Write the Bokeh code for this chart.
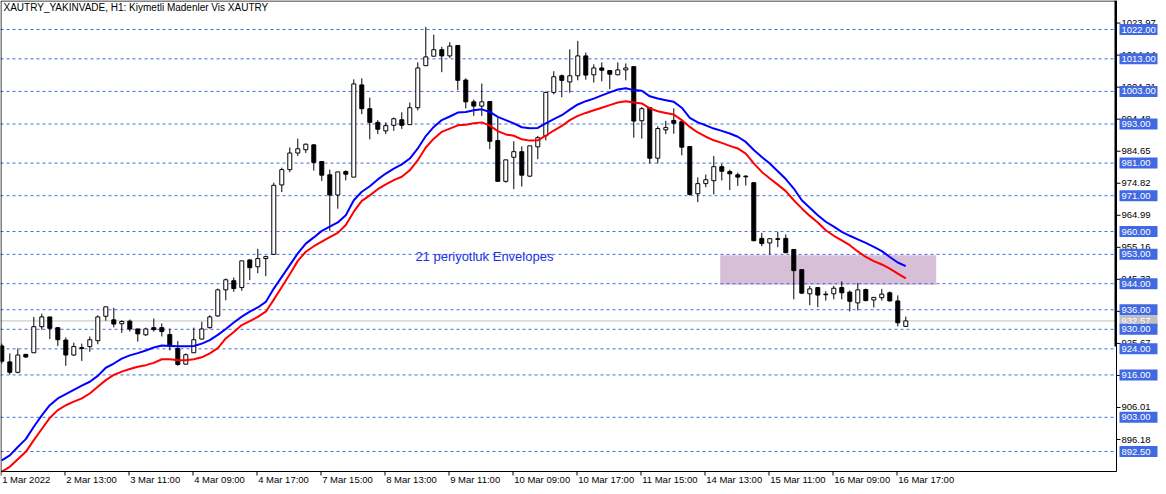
from bokeh.plotting import figure
from bokeh.models import Range1d, ColumnDataSource
from bokeh.core.properties import value
from bokeh.embed import file_html
from bokeh.resources import INLINE

title_text = "XAUTRY_YAKINVADE, H1:  Kiymetli Madenler Vis XAUTRY"
envelope_text = "21 periyotluk Envelopes"

opens = [924.9, 920.0, 916.8, 922.3, 922.8, 930.8, 933.8, 930.5, 926.7, 922.1,
         924.1, 924.7, 926.5, 934.0, 932.9, 931.7, 932.5, 930.1, 928.3, 930.5,
         930.5, 928.4, 924.1, 919.3, 922.8, 927.0, 930.5, 934.1, 942.1, 944.9,
         942.8, 951.3, 949.2, 951.7, 953.0, 974.3, 979.0, 984.1, 985.1, 986.6,
         981.5, 977.4, 971.2, 978.4, 976.7, 1005.0, 997.7, 993.5, 990.9, 992.6,
         994.3, 992.8, 998.0, 1010.9, 1013.8, 1015.8, 1013.9, 1017.1, 1006.5, 999.8,
         998.5, 999.9, 987.9, 975.4, 982.8, 984.5, 977.0, 986.0, 989.4, 1002.7,
         1007.8, 1005.9, 1007.8, 1013.9, 1008.1, 1010.2, 1009.4, 1008.1, 1009.6, 1010.6,
         994.0, 998.0, 982.5, 991.2, 994.1, 993.7, 986.1, 971.6, 974.7, 975.6,
         979.9, 978.4, 977.4, 977.0, 975.0, 957.9, 956.5, 957.8, 957.9, 954.5,
         948.3, 940.9, 942.8, 940.8, 940.9, 942.8, 941.4, 938.1, 942.2, 939.0,
         939.7, 941.2, 938.7, 930.9]

highs = [925.6, 922.6, 924.1, 922.5, 933.8, 934.8, 933.8, 930.6, 927.5, 925.9,
         925.6, 927.8, 934.3, 936.9, 936.6, 932.8, 933.0, 930.2, 930.5, 933.3,
         931.8, 930.2, 926.4, 922.6, 930.5, 932.3, 934.3, 942.5, 945.6, 945.9,
         951.0, 951.5, 954.7, 952.6, 975.0, 979.6, 985.8, 988.5, 987.0, 986.8,
         981.5, 979.0, 978.3, 978.8, 1006.7, 1007.0, 1001.1, 994.2, 993.5, 995.0,
         996.6, 999.6, 1011.9, 1022.8, 1020.4, 1016.7, 1018.1, 1017.1, 1007.0, 1000.5,
         1005.4, 999.9, 994.9, 982.0, 987.7, 986.1, 986.3, 989.3, 1002.9, 1009.2,
         1008.2, 1015.9, 1018.5, 1014.9, 1011.3, 1011.9, 1009.4, 1011.9, 1011.6, 1010.6,
         998.2, 998.0, 992.3, 994.0, 997.8, 993.7, 986.1, 976.6, 977.5, 983.2,
         980.8, 979.0, 978.1, 977.3, 975.0, 959.6, 957.8, 959.9, 959.1, 954.5,
         948.3, 943.3, 943.0, 941.7, 943.3, 944.7, 941.9, 944.2, 942.5, 939.8,
         942.4, 941.6, 940.4, 933.9]

lows = [919.5, 916.1, 916.5, 921.2, 922.8, 929.9, 927.0, 924.9, 918.8, 921.9,
        920.3, 923.1, 925.4, 932.6, 930.6, 928.9, 929.3, 926.2, 928.0, 929.3,
        927.8, 923.5, 918.8, 919.2, 922.8, 926.9, 930.2, 933.8, 938.9, 941.5,
        941.8, 945.1, 947.2, 946.3, 953.0, 972.1, 978.2, 983.2, 984.1, 978.7,
        975.5, 960.2, 967.0, 975.7, 976.7, 996.0, 988.3, 989.9, 989.9, 990.9,
        991.5, 992.8, 997.2, 1010.9, 1013.8, 1008.9, 1013.3, 1003.4, 997.8, 995.5,
        995.5, 985.3, 975.4, 975.0, 973.0, 973.8, 976.7, 982.2, 988.0, 1002.1,
        1001.2, 1002.6, 1006.4, 1006.6, 1005.7, 1006.1, 1003.7, 1008.0, 1006.4, 988.8,
        988.5, 980.9, 980.9, 989.9, 990.0, 983.4, 971.0, 969.0, 973.6, 971.4,
        975.7, 972.7, 974.0, 974.1, 957.0, 955.5, 952.9, 955.2, 953.4, 939.2,
        940.8, 937.4, 936.8, 938.8, 939.2, 939.2, 935.5, 935.8, 938.6, 936.7,
        938.8, 938.6, 930.9, 930.9]

closes = [920.2, 916.8, 922.1, 921.5, 930.8, 933.8, 930.3, 926.8, 922.1, 924.7,
          924.4, 926.8, 933.8, 936.9, 931.6, 932.4, 930.1, 928.6, 930.1, 929.9,
          929.3, 924.9, 919.2, 922.2, 926.8, 930.1, 933.8, 942.1, 945.2, 942.5,
          951.0, 948.9, 951.7, 952.3, 974.2, 979.0, 984.1, 985.4, 986.8, 981.2,
          977.3, 971.2, 978.3, 977.6, 1005.3, 997.7, 993.5, 991.4, 992.5, 994.6,
          992.6, 998.0, 1010.2, 1013.6, 1015.8, 1013.9, 1016.9, 1006.4, 999.8, 998.5,
          999.8, 987.7, 975.4, 982.0, 984.5, 977.3, 986.3, 988.8, 1002.7, 1007.5,
          1006.4, 1007.8, 1013.9, 1008.0, 1010.2, 1009.5, 1008.3, 1009.6, 1010.2, 993.9,
          997.7, 982.5, 991.6, 991.9, 993.2, 985.9, 971.4, 974.7, 975.9, 979.9,
          978.5, 977.7, 976.7, 976.8, 957.2, 956.3, 957.8, 957.6, 953.5, 948.0,
          941.1, 942.4, 940.5, 940.6, 942.6, 941.2, 938.6, 942.1, 938.8, 939.8,
          940.8, 938.7, 932.0, 932.57]

env_upper = [889.8, 891.3, 893.9, 896.3, 900.1, 903.6, 906.7, 908.8, 910.1, 911.4,
             912.7, 913.9, 915.7, 918.2, 919.5, 921.0, 922.0, 922.7, 923.5, 924.4,
             925.0, 924.9, 924.8, 924.8, 924.9, 925.6, 926.7, 928.3, 930.1, 932.1,
             933.9, 935.4, 936.7, 938.4, 942.5, 946.1, 949.7, 953.3, 956.3, 958.2,
             960.2, 961.5, 962.8, 965.0, 969.6, 972.2, 973.9, 976.0, 977.8, 979.3,
             980.6, 982.4, 985.5, 989.3, 992.1, 994.2, 995.3, 996.5, 996.7, 997.2,
             997.5, 996.7, 995.2, 994.2, 993.2, 992.0, 991.7, 991.8, 993.2, 994.5,
             995.7, 997.4, 999.0, 1000.0, 1000.8, 1001.8, 1002.7, 1003.6, 1004.0, 1003.4,
             1003.2, 1001.5, 1000.8, 1000.3, 999.8, 998.0, 994.9, 993.5, 992.6, 991.6,
             990.9, 990.1, 989.1, 987.5, 985.0, 982.9, 980.9, 978.5, 976.1, 973.2,
             969.6, 967.3, 965.0, 963.0, 961.5, 959.9, 958.7, 957.6, 956.5, 955.3,
             954.0, 952.2, 950.5, 949.4]

env_lower = [886.3, 887.8, 890.1, 892.4, 896.0, 899.4, 902.8, 905.2, 906.7, 907.8,
             908.8, 910.3, 912.4, 914.4, 916.0, 917.0, 917.8, 918.5, 919.0, 919.7,
             920.8, 920.8, 920.5, 920.5, 920.8, 921.4, 922.6, 924.2, 927.2, 929.2,
             931.3, 932.5, 933.8, 935.4, 939.1, 943.0, 946.9, 951.0, 953.8, 955.5,
             956.9, 958.3, 959.6, 962.0, 966.1, 969.4, 971.1, 973.0, 974.5, 975.8,
             976.8, 978.8, 981.9, 985.8, 988.5, 990.6, 991.6, 992.6, 992.8, 993.2,
             993.5, 992.5, 990.8, 989.8, 989.4, 988.3, 987.9, 988.0, 989.4, 991.0,
             992.4, 994.2, 995.5, 996.4, 997.2, 998.0, 998.8, 999.6, 1000.0, 999.6,
             999.3, 997.8, 996.9, 996.4, 995.9, 994.2, 992.1, 990.4, 989.1, 988.0,
             987.2, 986.3, 985.5, 983.9, 980.9, 978.3, 976.3, 974.4, 972.4, 969.6,
             967.1, 964.8, 962.8, 960.4, 958.7, 957.3, 955.8, 953.9, 952.2, 950.9,
             949.9, 948.6, 947.1, 945.6]

x_tick_bars = [0, 8, 16, 24, 32, 40, 48, 56, 64, 72, 80, 88, 96, 104, 112]
x_tick_labels = ["1 Mar 2022", "2 Mar 13:00", "3 Mar 11:00", "4 Mar 09:00", "4 Mar 17:00",
                 "7 Mar 15:00", "8 Mar 13:00", "9 Mar 11:00", "10 Mar 09:00", "10 Mar 17:00",
                 "11 Mar 15:00", "14 Mar 13:00", "15 Mar 11:00", "16 Mar 09:00", "16 Mar 17:00"]

price_ticks = [896.18, 906.01, 915.84, 925.67, 935.50, 945.33, 955.16, 964.99,
               974.82, 984.65, 994.48, 1004.31, 1014.14, 1023.97]

levels = [1022.0, 1013.0, 1003.0, 993.0, 981.0, 971.0, 960.0, 953.0, 944.0,
          936.0, 930.0, 924.0, 916.0, 903.0, 892.5]
last_price = 932.57

zone_bars = (89.8, 116.8)
zone_prices = (943.7, 952.7)

# ---------------------------------------------------------------
# geometry: 8 px per bar, 3.2587 px per price unit
PXB = 1.0 / 8.0           # bars per pixel
PXP = 1.0 / 3.2587        # price per pixel
X0, XEND = -0.1625, 144.59      # canvas range (bars)
Y0, YEND = 881.76, 1030.90      # canvas range (price)
XR = 139.34                     # right edge of the chart frame
YB = 886.36                     # bottom edge of the chart frame
FONT = "Liberation Sans"
AXIS_FS = "9.5px"
LEVEL_BLUE = "#4169E1"

n = len(opens)
idx = list(range(n))
tops = [max(o, c) for o, c in zip(opens, closes)]
bots = [min(o, c) for o, c in zip(opens, closes)]
fills = ["white" if c >= o else "black" for o, c in zip(opens, closes)]

src = ColumnDataSource(dict(x=idx, h=highs, l=lows, top=tops, bot=bots, fill=fills,
                            up=env_upper, lo=env_lower))

p = figure(width=1158, height=486, output_backend="svg", toolbar_location=None,
           x_range=Range1d(X0, XEND), y_range=Range1d(Y0, YEND),
           x_axis_location=None, y_axis_location=None,
           min_border=0, min_border_left=0, min_border_right=0,
           min_border_top=0, min_border_bottom=0,
           background_fill_color="white", border_fill_color="white",
           outline_line_color=None)
p.grid.visible = False

# zone rectangle
p.quad(left=[zone_bars[0]], right=[zone_bars[1]], bottom=[zone_prices[0]], top=[zone_prices[1]],
       fill_color="#D8BFD8", line_color=None)

# horizontal levels (inside the frame only)
p.segment(x0=[X0], y0=[last_price], x1=[XR], y1=[last_price], line_color="#C0C0C0", line_width=1)
p.segment(x0=[X0] * len(levels), y0=levels, x1=[XR] * len(levels), y1=levels,
          line_color=LEVEL_BLUE, line_width=1, line_dash="3 3")

# candles
p.segment(x0="x", y0="l", x1="x", y1="h", source=src, line_color="black", line_width=1)
p.vbar(x="x", width=0.5, top="top", bottom="bot", source=src,
       fill_color="fill", line_color="black", line_width=1)

# envelopes
p.line("x", "up", source=src, line_color="#0000FF", line_width=2)
p.line("x", "lo", source=src, line_color="#FF0000", line_width=2)

# frame
p.line(x=[X0 + 0.5 * PXB, X0 + 0.5 * PXB, XR, XR, X0 + 0.5 * PXB],
       y=[YB, YEND - 0.5 * PXP, YEND - 0.5 * PXP, YB, YB],
       line_color="black", line_width=1)
# thick right edge marker
p.quad(left=[XR - 2 * PXB], right=[XR + 0.5 * PXB], bottom=[924.7], top=[YEND],
       fill_color="black", line_color=None)

# x axis ticks and labels
p.segment(x0=[b - 0.1 for b in x_tick_bars], y0=[YB] * len(x_tick_bars),
          x1=[b - 0.1 for b in x_tick_bars], y1=[YB - 4 * PXP] * len(x_tick_bars),
          line_color="black", line_width=1)
p.text(x=[b + 0.05 for b in x_tick_bars], y=[YB - 2.5 * PXP] * len(x_tick_bars), text=x_tick_labels,
       text_font=value(FONT), text_font_size=AXIS_FS, text_color="black",
       text_align="left", text_baseline="top")

# right price scale
p.segment(x0=[XR] * len(price_ticks), y0=price_ticks,
          x1=[XR + 4 * PXB] * len(price_ticks), y1=price_ticks,
          line_color="black", line_width=1)
p.text(x=[XR + 5 * PXB] * len(price_ticks), y=price_ticks,
       text=[f"{t:.2f}" for t in price_ticks],
       text_font=value(FONT), text_font_size=AXIS_FS, text_color="black",
       text_align="left", text_baseline="middle")

# highlighted price labels
box_h = 11 * PXP
p.quad(left=[XR + 3 * PXB], right=[XR + 41 * PXB],
       bottom=[last_price - box_h / 2], top=[last_price + box_h / 2],
       fill_color="#C0C0C0", line_color=None)
p.text(x=[XR + 5 * PXB], y=[last_price], text=[f"{last_price:.2f}"],
       text_font=value(FONT), text_font_size=AXIS_FS, text_color="white",
       text_align="left", text_baseline="middle")
p.quad(left=[XR + 3 * PXB] * len(levels), right=[XR + 41 * PXB] * len(levels),
       bottom=[lv - box_h / 2 for lv in levels], top=[lv + box_h / 2 for lv in levels],
       fill_color=LEVEL_BLUE, line_color=None)
p.text(x=[XR + 5 * PXB] * len(levels), y=levels, text=[f"{lv:.2f}" for lv in levels],
       text_font=value(FONT), text_font_size=AXIS_FS, text_color="white",
       text_align="left", text_baseline="middle")

# texts
p.text(x=[X0 + 3 * PXB], y=[YEND - 2 * PXP], text=[title_text],
       text_font=value(FONT), text_font_size="10px", text_color="black",
       text_align="left", text_baseline="top")
p.text(x=[51.7], y=[952.3], text=[envelope_text],
       text_font=value(FONT), text_font_size="13px", text_color="#1E32E6",
       text_align="left", text_baseline="middle")

open("out.html", "w").write(file_html(p, INLINE))
